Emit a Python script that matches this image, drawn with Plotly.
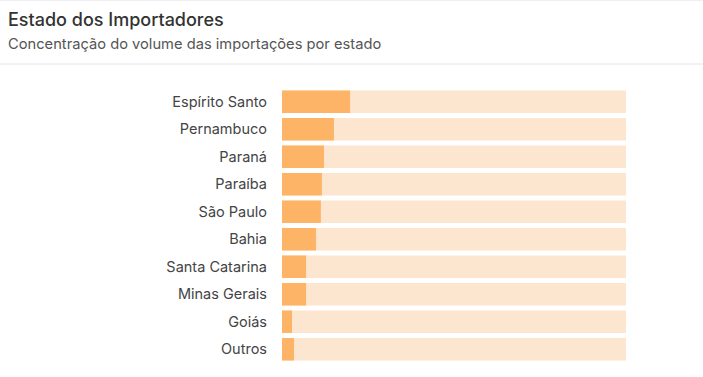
import plotly.graph_objects as go

states = ["Espírito Santo", "Pernambuco", "Paraná", "Paraíba", "São Paulo",
          "Bahia", "Santa Catarina", "Minas Gerais", "Goiás", "Outros"]
shares = [19.8, 15.1, 12.2, 11.6, 11.3, 9.9, 7.0, 7.0, 2.9, 3.5]
total = [100] * len(states)

W, H = 703, 377
ml, mr, mt, mb = 282, 77, 88, 14
pw, ph = W - ml - mr, H - mt - mb

def px_x(p):
    return (p - ml) / pw

def px_y(p):
    return (H - mb - p) / ph

fig = go.Figure()
fig.add_trace(go.Bar(y=states, x=total, orientation="h",
                     marker=dict(color="#FDE6D0", line=dict(width=0)),
                     hoverinfo="skip", showlegend=False))
fig.add_trace(go.Bar(y=states, x=shares, orientation="h",
                     marker=dict(color="#FDB466", line=dict(width=0)),
                     showlegend=False))

fig.update_layout(
    width=W, height=H,
    margin=dict(l=ml, r=mr, t=mt, b=mb),
    barmode="overlay", bargap=0.18,
    paper_bgcolor="white", plot_bgcolor="white",
    font=dict(family="Inter, Noto Sans, sans-serif", color="#444"),
    xaxis=dict(range=[0, 100], visible=False, fixedrange=True),
    yaxis=dict(categoryorder="array", categoryarray=states, autorange="reversed",
               showgrid=False, zeroline=False, showline=False, ticks="",
               ticklabelstandoff=14, tickfont=dict(size=14.5, color="#444")),
    annotations=[
        dict(text="Estado dos Importadores", xref="paper", yref="paper",
             x=px_x(6), y=px_y(20), xanchor="left", yanchor="middle",
             showarrow=False, font=dict(size=18, color="#333", weight=500)),
        dict(text="Concentração do volume das importações por estado", xref="paper", yref="paper",
             x=px_x(6), y=px_y(44), xanchor="left", yanchor="middle",
             showarrow=False, font=dict(size=14.7, color="#555")),
    ],
    shapes=[
        dict(type="line", xref="paper", yref="paper", x0=px_x(0), x1=px_x(W),
             y0=px_y(64), y1=px_y(64), line=dict(color="#E3E3EC", width=1)),
        dict(type="line", xref="paper", yref="paper", x0=px_x(0), x1=px_x(W),
             y0=px_y(0.5), y1=px_y(0.5), line=dict(color="#EEEEF4", width=1)),
    ],
)

fig.write_html("out.html", config={"displayModeBar": False},
               post_script="document.body.style.margin='0';")
